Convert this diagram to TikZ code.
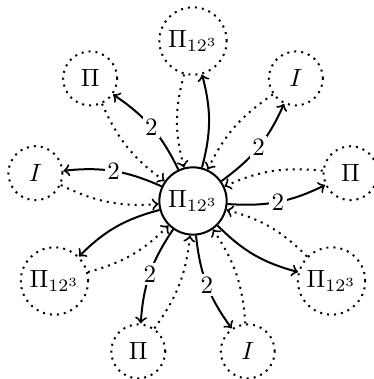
\documentclass[tikz,border=0pt]{standalone}
\usepackage{amsmath,amssymb}
\usetikzlibrary{arrows, positioning, calc}
\tikzset{
    hubnode/.style={circle, draw, thick, inner sep=2pt},
    leafnode/.style={circle, draw, thick, dotted, inner sep=2pt, minimum size=21.6pt},
    fwd/.style={->, thick, bend right=15},
    back/.style={->, thick, dotted, bend right=15},
    wt/.style={fill=white, inner sep=1pt}
}
\begin{document}
\begin{tikzpicture}[>=to]

    \useasboundingbox (-77.2pt,-71.2pt) rectangle (72pt,80.4pt);

    % Centre
    \node (mid) [hubnode] at (0,0) {$\Pi_{12^3}$};

    % Ring of leaves, every 40 degrees
    \node (pa) [leafnode] at (10:64pt) {$\Pi$};
    \node (ia) [leafnode] at (50:64pt) {$I$};
    \node (qa) [leafnode] at (90:64pt) {$\Pi_{12^3}$};
    \node (pb) [leafnode] at (130:64pt) {$\Pi$};
    \node (ib) [leafnode] at (170:64pt) {$I$};
    \node (qb) [leafnode] at (210:64pt) {$\Pi_{12^3}$};
    \node (pc) [leafnode] at (250:64pt) {$\Pi$};
    \node (ic) [leafnode] at (290:64pt) {$I$};
    \node (qc) [leafnode] at (330:64pt) {$\Pi_{12^3}$};

    % Outgoing edges
    \draw [fwd] (mid) to node[wt] {2} (pa);
    \draw [fwd] (mid) to node[wt] {2} (ia);
    \draw [fwd] (mid) to (qa);
    \draw [fwd] (mid) to node[wt] {2} (pb);
    \draw [fwd] (mid) to node[wt] {2} (ib);
    \draw [fwd] (mid) to (qb);
    \draw [fwd] (mid) to node[wt] {2} (pc);
    \draw [fwd] (mid) to node[wt] {2} (ic);
    \draw [fwd] (mid) to (qc);

    % Returning edges
    \draw [back] (pa) to (mid);
    \draw [back] (ia) to (mid);
    \draw [back] (qa) to (mid);
    \draw [back] (pb) to (mid);
    \draw [back] (ib) to (mid);
    \draw [back] (qb) to (mid);
    \draw [back] (pc) to (mid);
    \draw [back] (ic) to (mid);
    \draw [back] (qc) to (mid);

\end{tikzpicture}
\end{document}
